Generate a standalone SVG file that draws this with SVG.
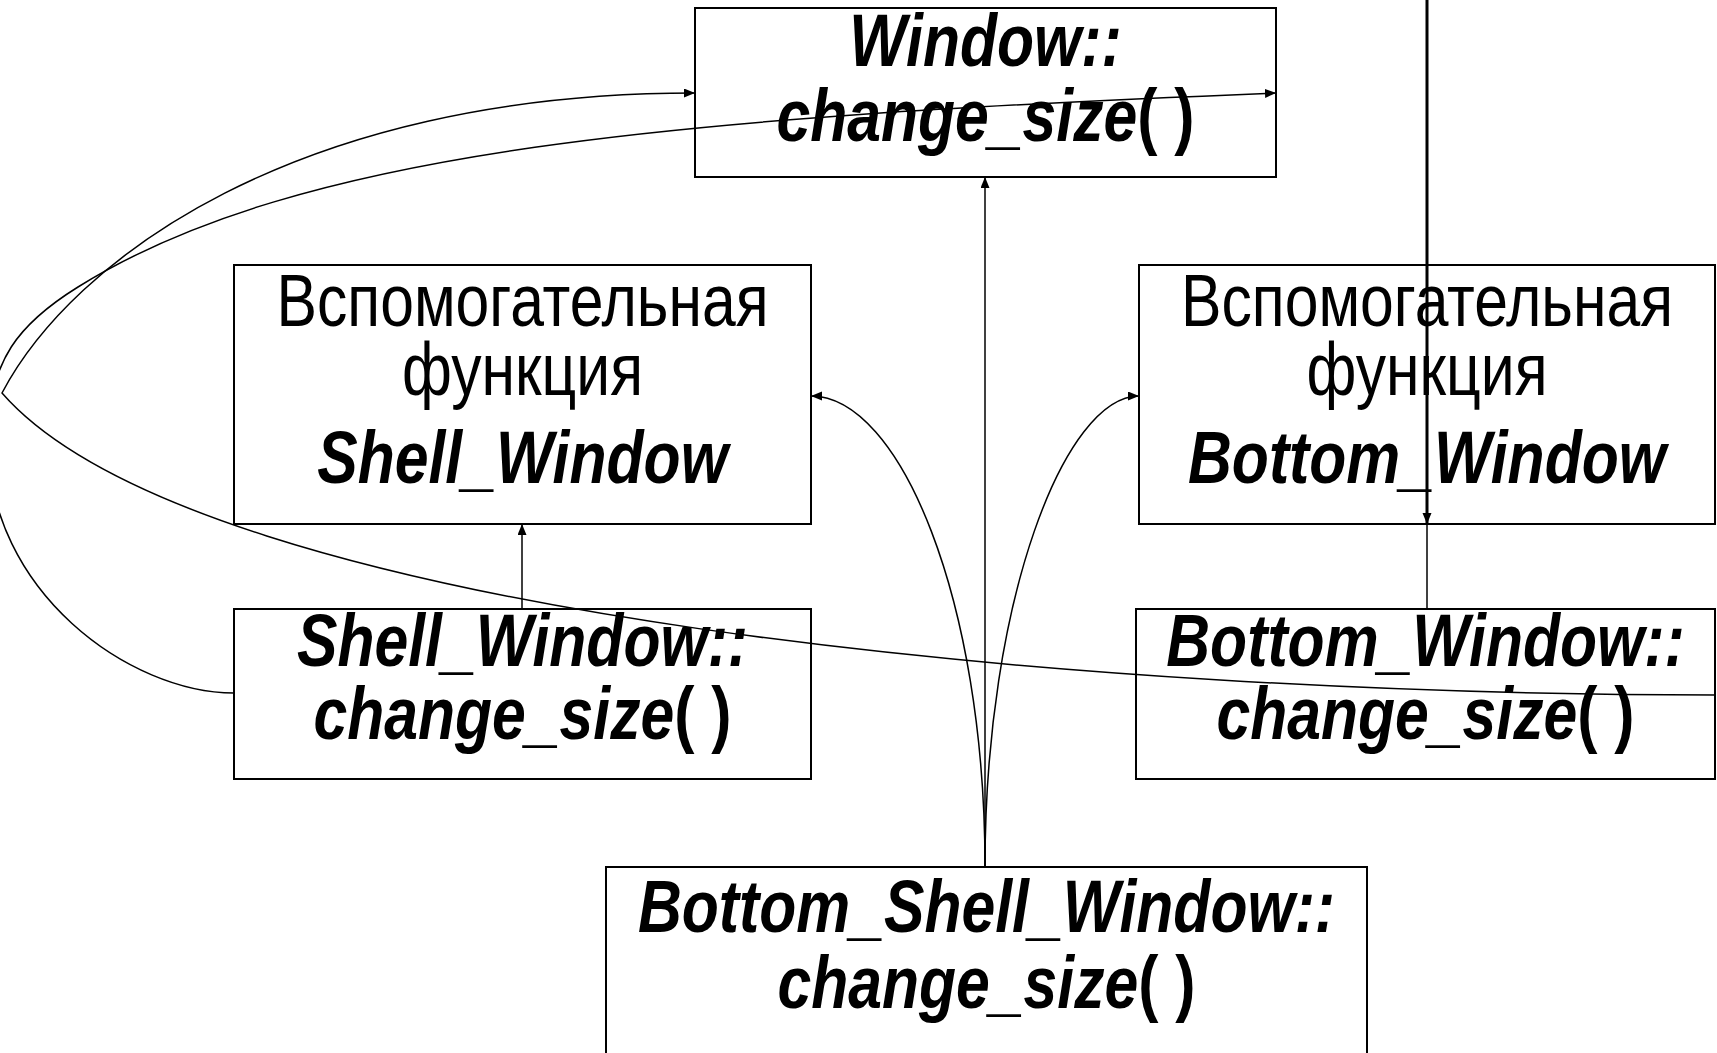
<svg xmlns="http://www.w3.org/2000/svg" width="1717" height="1053" viewBox="0 0 1717 1053">
<style>
.box{fill:none;stroke:#000;stroke-width:2}
.t{font-family:"Liberation Sans","Arial",sans-serif;font-size:74px;text-anchor:middle;fill:#000}
.bi{font-weight:bold;font-style:italic}
.r{font-weight:bold;font-style:normal}
.c{fill:none;stroke:#000;stroke-width:1.5}
.thick{stroke-width:3}
</style>
<defs>
<marker id="ah" markerUnits="userSpaceOnUse" markerWidth="12" markerHeight="10" refX="11" refY="4.5" orient="auto"><path d="M0,0 L11,4.5 L0,9 z" fill="#000"/></marker>
</defs>
<rect width="1717" height="1053" fill="#fff"/>
<g id="window_change_size">
<rect class="box" x="695" y="8" width="581" height="169"/>
<text class="t" transform="matrix(0.82,0,0,1,985.5,66)"><tspan class="bi">Window::</tspan></text>
<text class="t" transform="matrix(0.82,0,0,1,985.5,141)"><tspan class="bi">change_size</tspan><tspan class="r">( )</tspan></text>
</g>
<g id="helper_shell">
<rect class="box" x="234" y="265" width="577" height="259"/>
<text class="t" transform="matrix(0.82,0,0,1,522.5,326)">Вспомогательная</text>
<text class="t" transform="matrix(0.82,0,0,1,522.5,395)">функция</text>
<text class="t bi" transform="matrix(0.82,0,0,1,522.5,483)">Shell_Window</text>
</g>
<g id="helper_bottom">
<rect class="box" x="1139" y="265" width="576" height="259"/>
<text class="t" transform="matrix(0.82,0,0,1,1427,326)">Вспомогательная</text>
<text class="t" transform="matrix(0.82,0,0,1,1427,395)">функция</text>
<text class="t bi" transform="matrix(0.82,0,0,1,1427,483)">Bottom_Window</text>
</g>
<g id="shell_change_size">
<rect class="box" x="234" y="609" width="577" height="170"/>
<text class="t" transform="matrix(0.82,0,0,1,522.5,666)"><tspan class="bi">Shell_Window::</tspan></text>
<text class="t" transform="matrix(0.82,0,0,1,522.5,739)"><tspan class="bi">change_size</tspan><tspan class="r">( )</tspan></text>
</g>
<g id="bottom_change_size">
<rect class="box" x="1136" y="609" width="579" height="170"/>
<text class="t" transform="matrix(0.82,0,0,1,1425.5,666)"><tspan class="bi">Bottom_Window::</tspan></text>
<text class="t" transform="matrix(0.82,0,0,1,1425.5,739)"><tspan class="bi">change_size</tspan><tspan class="r">( )</tspan></text>
</g>
<g id="bottom_shell_change_size">
<rect class="box" x="606" y="867" width="761" height="200"/>
<text class="t" transform="matrix(0.82,0,0,1,986.5,932)"><tspan class="bi">Bottom_Shell_Window::</tspan></text>
<text class="t" transform="matrix(0.82,0,0,1,986.5,1008)"><tspan class="bi">change_size</tspan><tspan class="r">( )</tspan></text>
</g>
<g id="connectors">
<path class="c" d="M985,867 V177" marker-end="url(#ah)"/>
<path class="c" d="M985,867 C985,600 900,396 811,396" marker-end="url(#ah)"/>
<path class="c" d="M985,867 C985,600 1065,396 1139,396" marker-end="url(#ah)"/>
<path class="c" d="M522,609 V524" marker-end="url(#ah)"/>
<path class="c thick" d="M1427,0 V524" marker-end="url(#ah)"/>
<path class="c" d="M1427,609 V524"/>
<path class="c" d="M1716,695 C1100,695 200,620 2,393 C72,260 295,93 695,93" marker-end="url(#ah)"/>
<path class="c" d="M234,693 C130,693 -12,592 -12,440 C-12,360 20,323 78,287 C299,149 676,117 1276,93" marker-end="url(#ah)"/>
</g>
</svg>
